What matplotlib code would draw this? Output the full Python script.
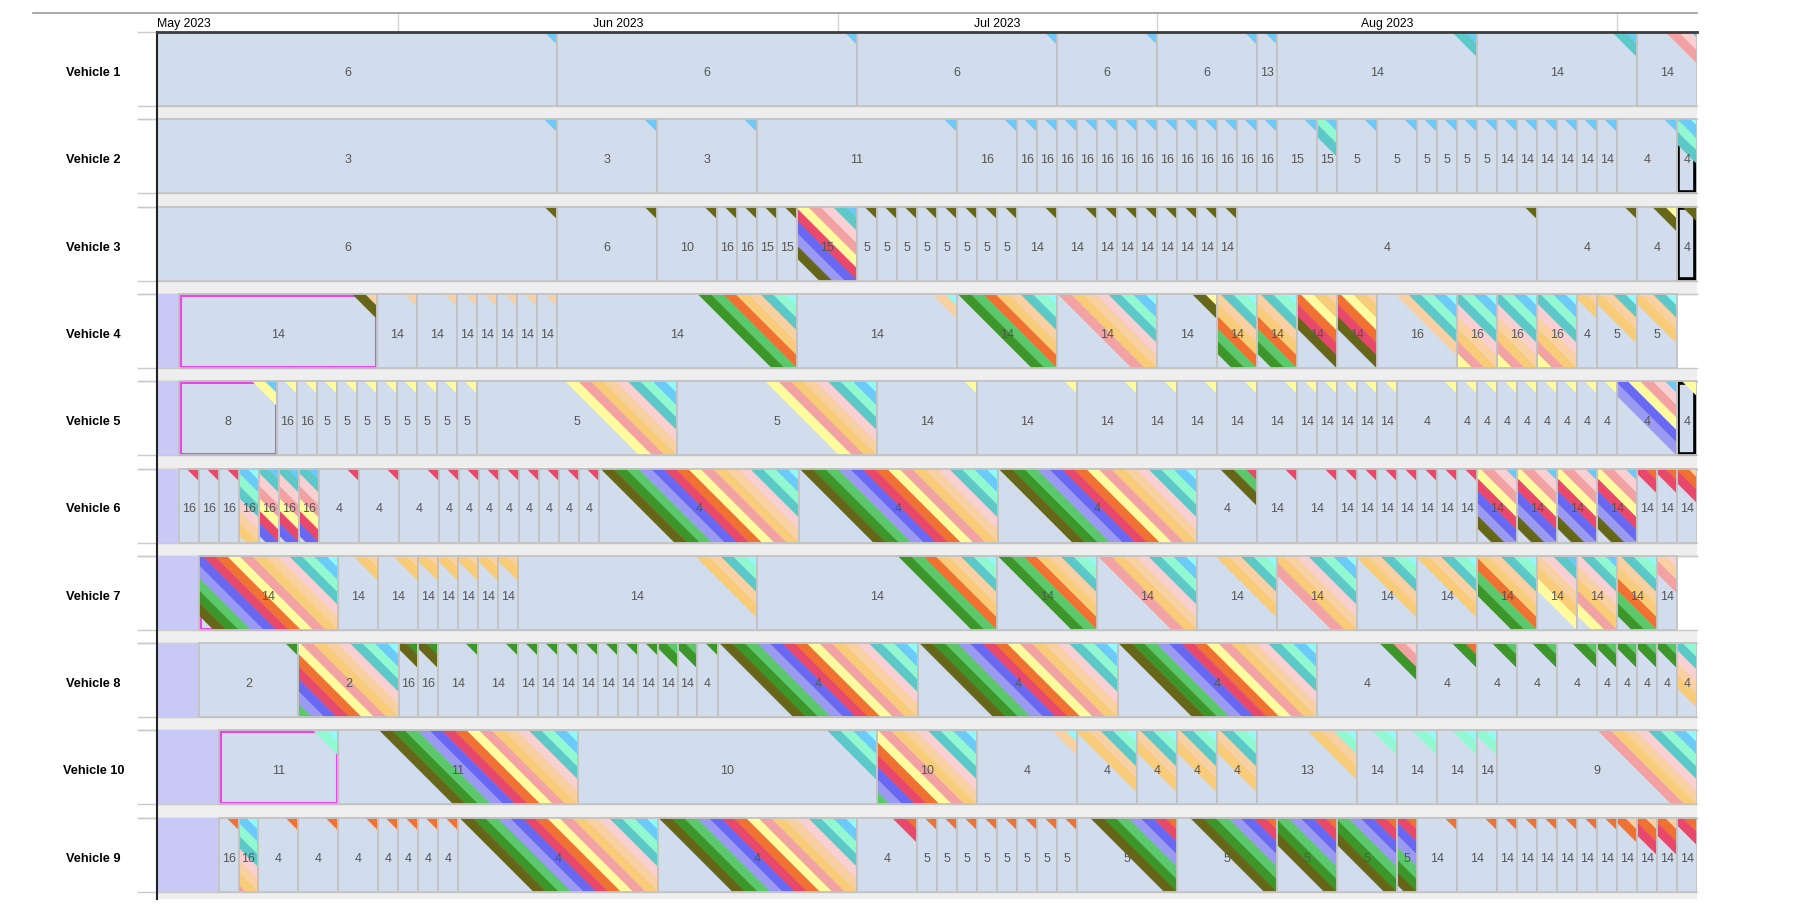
import matplotlib
matplotlib.use("Agg")
import matplotlib.pyplot as plt
from matplotlib.patches import Rectangle, Polygon
from matplotlib.lines import Line2D

plt.rcParams['font.family'] = ['Liberation Sans', 'DejaVu Sans']

# ---------------------------------------------------------------- data
vehicles = ["Vehicle 1", "Vehicle 2", "Vehicle 3", "Vehicle 4", "Vehicle 5",
            "Vehicle 6", "Vehicle 7", "Vehicle 8", "Vehicle 10", "Vehicle 9"]

months = ["May 2023", "Jun 2023", "Jul 2023", "Aug 2023", ""]
month_starts = [0.0, 24.1, 68.1, 100.0, 146.0]
x_end = 154.0

ALL = "oDglbrOysapktmSc"

# unavailable (lavender) span at the start of each row
lav_end = [0, 0, 0, 2.2, 2.2, 2.2, 4.2, 4.2, 6.2, 6.2]

v1_edges = [-1.8, 40, 70, 90, 100, 110, 112, 132, 148, 154.6]
v1_labels = [6, 6, 6, 6, 6, 13, 14, 14, 14]
v1_tags = "S S S S S S tS tS skS"

v2_edges = [-1.8, 40, 50, 60, 80, 86, 88, 90, 92, 94, 96, 98, 100, 102, 104, 106, 108,
            110, 112, 116, 118, 122, 126, 128, 130, 132, 134, 136, 138, 140, 142, 144,
            146, 152, 154.5]
v2_labels = [3, 3, 3, 11, 16, 16, 16, 16, 16, 16, 16, 16, 16, 16, 16, 16, 16, 16, 15, 15,
             5, 5, 5, 5, 5, 5, 14, 14, 14, 14, 14, 14, 4, 4]
v2_tags = ("S S S S S S S S S S S S S S S S S S S tmS "
           "S S S S S S S S S S S S S tmSc")

v3_edges = [-1.8, 40, 50, 56, 58, 60, 62, 64, 70, 72, 74, 76, 78, 80, 82, 84, 86, 90, 94,
            96, 98, 100, 102, 104, 106, 108, 138, 148, 152, 155]
v3_labels = [6, 6, 10, 16, 16, 15, 15, 15, 5, 5, 5, 5, 5, 5, 5, 5, 14, 14, 14, 14, 14, 14,
             14, 14, 14, 4, 4, 4, 4]
v3_tags = ("o o o o o o o olbrysktS o o o o o o o o o o o o o o o o o o o oy oy")

v4_edges = [2.2, 22, 26, 30, 32, 34, 36, 38, 40, 64, 80, 90, 100, 106, 110, 114, 118, 122,
            130, 134, 138, 142, 144, 148, 152]
v4_labels = [14, 14, 14, 14, 14, 14, 14, 14, 14, 14, 14, 14, 14, 14, 14, 14, 14,
             16, 16, 16, 16, 4, 5, 5]
v4_tags = ("op p p p p p p p DgOaptmc pc DgOaptmc sapktmSc oy DgOaptmc DgOaptmc "
           "orOyap orOyap ptmSc ysapktmSc ysapktmSc ysapktmSc ap aptc aptc")

v5_edges = [2.2, 12, 14, 16, 18, 20, 22, 24, 26, 28, 30, 32, 52, 72, 82, 92, 98, 102, 106,
            110, 114, 116, 118, 120, 122, 124, 130, 132, 134, 136, 138, 140, 142, 144, 146,
            152, 155]
v5_labels = [8, 16, 16, 5, 5, 5, 5, 5, 5, 5, 5, 5, 5, 14, 14, 14, 14, 14, 14, 14, 14, 14,
             14, 14, 14, 4, 4, 4, 4, 4, 4, 4, 4, 4, 4, 4]
v5_tags = ("yS y y y y y y y y y y ysapktmSc ysapktmSc y y y y y y y y y y y y "
           "y y y y y y y y y lbyskS yS")

v6_edges = [2.2, 4.2, 6.2, 8.2, 10.2, 12.2, 14.2, 16.2, 20.2, 24.2, 28.2, 30.2, 32.2, 34.2,
            36.2, 38.2, 40.2, 42.2, 44.2, 64.2, 84.1, 104, 110, 114, 118, 120, 122, 124, 126,
            128, 130, 132, 136, 140, 144, 148, 150, 152, 154.3]
v6_labels = [16, 16, 16, 16, 16, 16, 16, 4, 4, 4, 4, 4, 4, 4, 4, 4, 4, 4, 4, 4, 4, 4,
             14, 14, 14, 14, 14, 14, 14, 14, 14, 14, 14, 14, 14, 14, 14, 14]
v6_tags = ("r r r apktmSc brysktS brysktS brysktS r r r r r r r r r r r "
           f"{ALL} {ALL} {ALL} ogr r r r r r r r r r "
           "olbryskS olbryskS olbryskS olbryskS rO rO rOp")

v7_edges = [4.2, 18.1, 22.1, 26.1, 28.1, 30.1, 32.1, 34.1, 36.1, 60, 84, 94, 104, 112, 120,
            126, 132, 138, 142, 146, 150, 152]
v7_labels = [14, 14, 14, 14, 14, 14, 14, 14, 14, 14, 14, 14, 14, 14, 14, 14, 14, 14, 14,
             14, 14]
v7_tags = (f"{ALL} ap ap ap ap ap ap ap aptmc DgOaptmc DgOaptmc sapktmSc aptmc sapktmSc "
           "aptmc aptmc DgOaptmc yapktS ysapktmS DgOaptmc spk")

v8_edges = [4.2, 14.1, 24.2, 26.1, 28.1, 32.1, 36.1, 38.1, 40.1, 42.1, 44.1, 46.1, 48.1,
            50.1, 52.1, 54, 56.1, 76.1, 96.1, 116, 126, 132, 136, 140, 144, 146, 148, 150,
            152, 155]
v8_labels = [2, 2, 16, 16, 14, 14, 14, 14, 14, 14, 14, 14, 14, 14, 14, 4, 4, 4, 4, 4, 4,
             4, 4, 4, 4, 4, 4, 4, 4]
v8_tags = (f"D glbrOysapktmSc oD oD D D D D D D D D D Dg Dg D {ALL} {ALL} {ALL} "
           "Dsk DO Dg Dg Dg Dg Dg Dg Dg apktmc")

v10_edges = [6.2, 18.1, 42.1, 72, 82, 92, 98, 102, 106, 110, 120, 124, 128, 132, 134, 154]
v10_labels = [11, 11, 10, 10, 4, 4, 4, 4, 4, 13, 14, 14, 14, 14, 9]
v10_tags = (f"mc {ALL} tmSc glbrOysapktmSc pc aptmc aptmc aptmc aptmc apmc "
            "mc mc mc mc sapktmSc")

v9_edges = [6.2, 8.2, 10.1, 14.1, 18.1, 22.1, 24.1, 26.1, 28.1, 30.1, 50.1, 70, 76, 78, 80,
            82, 84, 86, 88, 90, 92, 102, 112, 118, 124, 126, 130, 134, 136, 138, 140, 142,
            144, 146, 148, 150, 152, 155]
v9_labels = [16, 16, 4, 4, 4, 4, 4, 4, 4, 4, 4, 4, 5, 5, 5, 5, 5, 5, 5, 5, 5, 5, 5, 5, 5,
             14, 14, 14, 14, 14, 14, 14, 14, 14, 14, 14, 14]
v9_tags = (f"O sapktmSc O O O O O O O {ALL} {ALL} rO O O O O O O O O "
           "oDglbrO oDglbrO oDglbrO oDglbrO oDglbrO O O O O O O O O Op rOp rOp rOp")

row_edges = [v1_edges, v2_edges, v3_edges, v4_edges, v5_edges, v6_edges, v7_edges,
             v8_edges, v10_edges, v9_edges]
row_labels = [v1_labels, v2_labels, v3_labels, v4_labels, v5_labels, v6_labels, v7_labels,
              v8_labels, v10_labels, v9_labels]
row_tags = [v1_tags, v2_tags, v3_tags, v4_tags, v5_tags, v6_tags, v7_tags, v8_tags,
            v10_tags, v9_tags]

# highlighted bars: (row, bar index)
magenta_boxes = [(3, 0), (4, 0), (6, 0), (8, 0)]
black_boxes = [(1, 33), (2, 28), (4, 35)]

stripe_order = "oDglbrOysapktmSc"
stripe_colors = {
    'o': '#666619', 'D': '#3d9629', 'g': '#5cc86c', 'l': '#9a9af2', 'b': '#6868f2',
    'r': '#e8486a', 'O': '#f07232', 'y': '#fffb9e', 's': '#f2a2a2', 'a': '#f8cc78',
    'p': '#f8d0a2', 'k': '#f8d0d2', 't': '#5cc8c8', 'm': '#92f8d2', 'S': '#6ccaf8',
    'c': '#92f8f8',
}

BAR = '#d1ddec'
BAR_EDGE = '#c3c3c3'
LAV = '#c9c9f6'
SEP = '#eeeeee'
SEP_LINE = '#cacaca'

# ---------------------------------------------------------------- geometry
W, H = 1800, 920
L_PX, R_PX, T_PX, B_PX = 157, 1697, 33, 900
px_x = (R_PX - L_PX) / x_end          # pixels per x unit
row_px = 87.3                          # pixels per row
y_max = (B_PX - T_PX) / row_px
bar_h = 74 / row_px
band_px = 12.4
text_dy = 3.0 / row_px                 # small downward nudge of row texts

fig = plt.figure(figsize=(W / 100, H / 100), dpi=100)
fig.patch.set_facecolor('white')
ax = fig.add_axes([L_PX / W, 1 - B_PX / H, (R_PX - L_PX) / W, (B_PX - T_PX) / H])
ax.set_xlim(0, x_end)
ax.set_ylim(y_max, 0)
ax.set_xticks([])
ax.set_yticks([])
for s in ['right', 'bottom']:
    ax.spines[s].set_visible(False)
ax.spines['left'].set_color('#222222')
ax.spines['left'].set_linewidth(1.5)
ax.spines['top'].set_color('#3c3c3c')
ax.spines['top'].set_linewidth(2.0)
ax.spines['left'].set_zorder(20)
ax.spines['top'].set_zorder(20)


def clip_poly(pts, xmin, xmax, ymin, ymax):
    def ix(p, q, xv):
        t = (xv - p[0]) / (q[0] - p[0])
        return (xv, p[1] + t * (q[1] - p[1]))

    def iy(p, q, yv):
        t = (yv - p[1]) / (q[1] - p[1])
        return (p[0] + t * (q[0] - p[0]), yv)

    tests = [
        (lambda p: p[0] >= xmin, lambda p, q: ix(p, q, xmin)),
        (lambda p: p[0] <= xmax, lambda p, q: ix(p, q, xmax)),
        (lambda p: p[1] >= ymin, lambda p, q: iy(p, q, ymin)),
        (lambda p: p[1] <= ymax, lambda p, q: iy(p, q, ymax)),
    ]
    for inside, inter in tests:
        if not pts:
            return []
        out = []
        for i in range(len(pts)):
            cur, prev = pts[i], pts[i - 1]
            if inside(cur):
                if not inside(prev):
                    out.append(inter(prev, cur))
                out.append(cur)
            elif inside(prev):
                out.append(inter(prev, cur))
        pts = out
    return pts


# month grid lines (visible in separators) and header
for xm in month_starts[1:]:
    ax.plot([xm, xm], [0, y_max], color='#dadada', lw=1, zorder=0.5)
    ax.plot([xm, xm], [1.0, 1.0 + 19 / (B_PX - T_PX)], color='#d4d4d4', lw=1,
            transform=ax.get_xaxis_transform(), clip_on=False)
fig.add_artist(Line2D([33 / W, R_PX / W], [1 - 14 / H, 1 - 14 / H],
                      color='#9c9c9c', lw=1.2, transform=fig.transFigure))
hy = 1.0 + 9 / (B_PX - T_PX)
for i, m in enumerate(months):
    if not m:
        continue
    if i == 0:
        ax.text(month_starts[0], hy, m, ha='left', va='center', fontsize=8.8,
                transform=ax.get_xaxis_transform(), clip_on=False)
    else:
        xc = (month_starts[i] + month_starts[i + 1]) / 2
        ax.text(xc, hy, m, ha='center', va='center', fontsize=8.8,
                transform=ax.get_xaxis_transform(), clip_on=False)

# separators between rows
stub = -19 / px_x
for i in range(len(vehicles)):
    y0 = i + bar_h
    y1 = min(i + 1, y_max)
    ax.add_patch(Rectangle((0, y0), x_end, y1 - y0, facecolor=SEP, edgecolor='none',
                           zorder=1))
    for yy in (i, y0, i + 1):
        if yy <= y_max:
            ax.plot([stub, x_end], [yy, yy], color=SEP_LINE, lw=1.0, zorder=1.2,
                    clip_on=False)

# rows
for r, name in enumerate(vehicles):
    yt = r
    ax.text(-6.35, yt + bar_h / 2 + text_dy, name, ha='center', va='center', fontsize=9.2,
            fontweight='bold', clip_on=False)
    if lav_end[r] > 0:
        ax.add_patch(Rectangle((0, yt), lav_end[r], bar_h, facecolor=LAV,
                               edgecolor='none', zorder=2))
    edges = row_edges[r]
    labels = row_labels[r]
    tags = row_tags[r].split()
    assert len(edges) - 1 == len(labels) == len(tags), (name, len(edges), len(labels), len(tags))
    for b in range(len(labels)):
        xs, xe = edges[b], edges[b + 1]
        vx0, vx1 = max(xs, 0), min(xe, x_end)
        ax.add_patch(Rectangle((vx0, yt), vx1 - vx0, bar_h, facecolor=BAR,
                               edgecolor='none', zorder=2))
        if (r, b) in magenta_boxes:
            ax.add_patch(Rectangle((vx0 + 0.12, yt + 0.012), vx1 - vx0 - 0.24, bar_h - 0.024,
                                   fill=False, edgecolor='#ea46ea', lw=2.2, zorder=3))
        if (r, b) in black_boxes:
            ax.add_patch(Rectangle((vx0 + 0.12, yt + 0.015), vx1 - vx0 - 0.3, bar_h - 0.03,
                                   fill=False, edgecolor='#000000', lw=2.6, zorder=3))
        # stripes, innermost (corner) first
        keys = sorted(tags[b], key=lambda c: stripe_order.index(c), reverse=True)
        for k, key in enumerate(keys):
            d0, d1 = k * band_px, (k + 1) * band_px
            poly = [(xe - d0 / px_x, yt), (xe - d1 / px_x, yt),
                    (xe, yt + d1 / row_px), (xe, yt + d0 / row_px)]
            pts = clip_poly(poly, vx0, vx1, yt, yt + bar_h)
            if len(pts) >= 3:
                col = stripe_colors[key]
                ax.add_patch(Polygon(pts, closed=True, facecolor=col, edgecolor=col,
                                     lw=0.3, zorder=4))
        ax.add_patch(Rectangle((vx0, yt), vx1 - vx0, bar_h, fill=False,
                               edgecolor=BAR_EDGE, lw=1.3, zorder=5))
        ax.text((xs + vx1) / 2, yt + bar_h / 2 + text_dy, str(labels[b]), ha='center',
                va='center', fontsize=9, color='#555555', zorder=6)

fig.savefig("out.png", dpi=100, facecolor='white')
